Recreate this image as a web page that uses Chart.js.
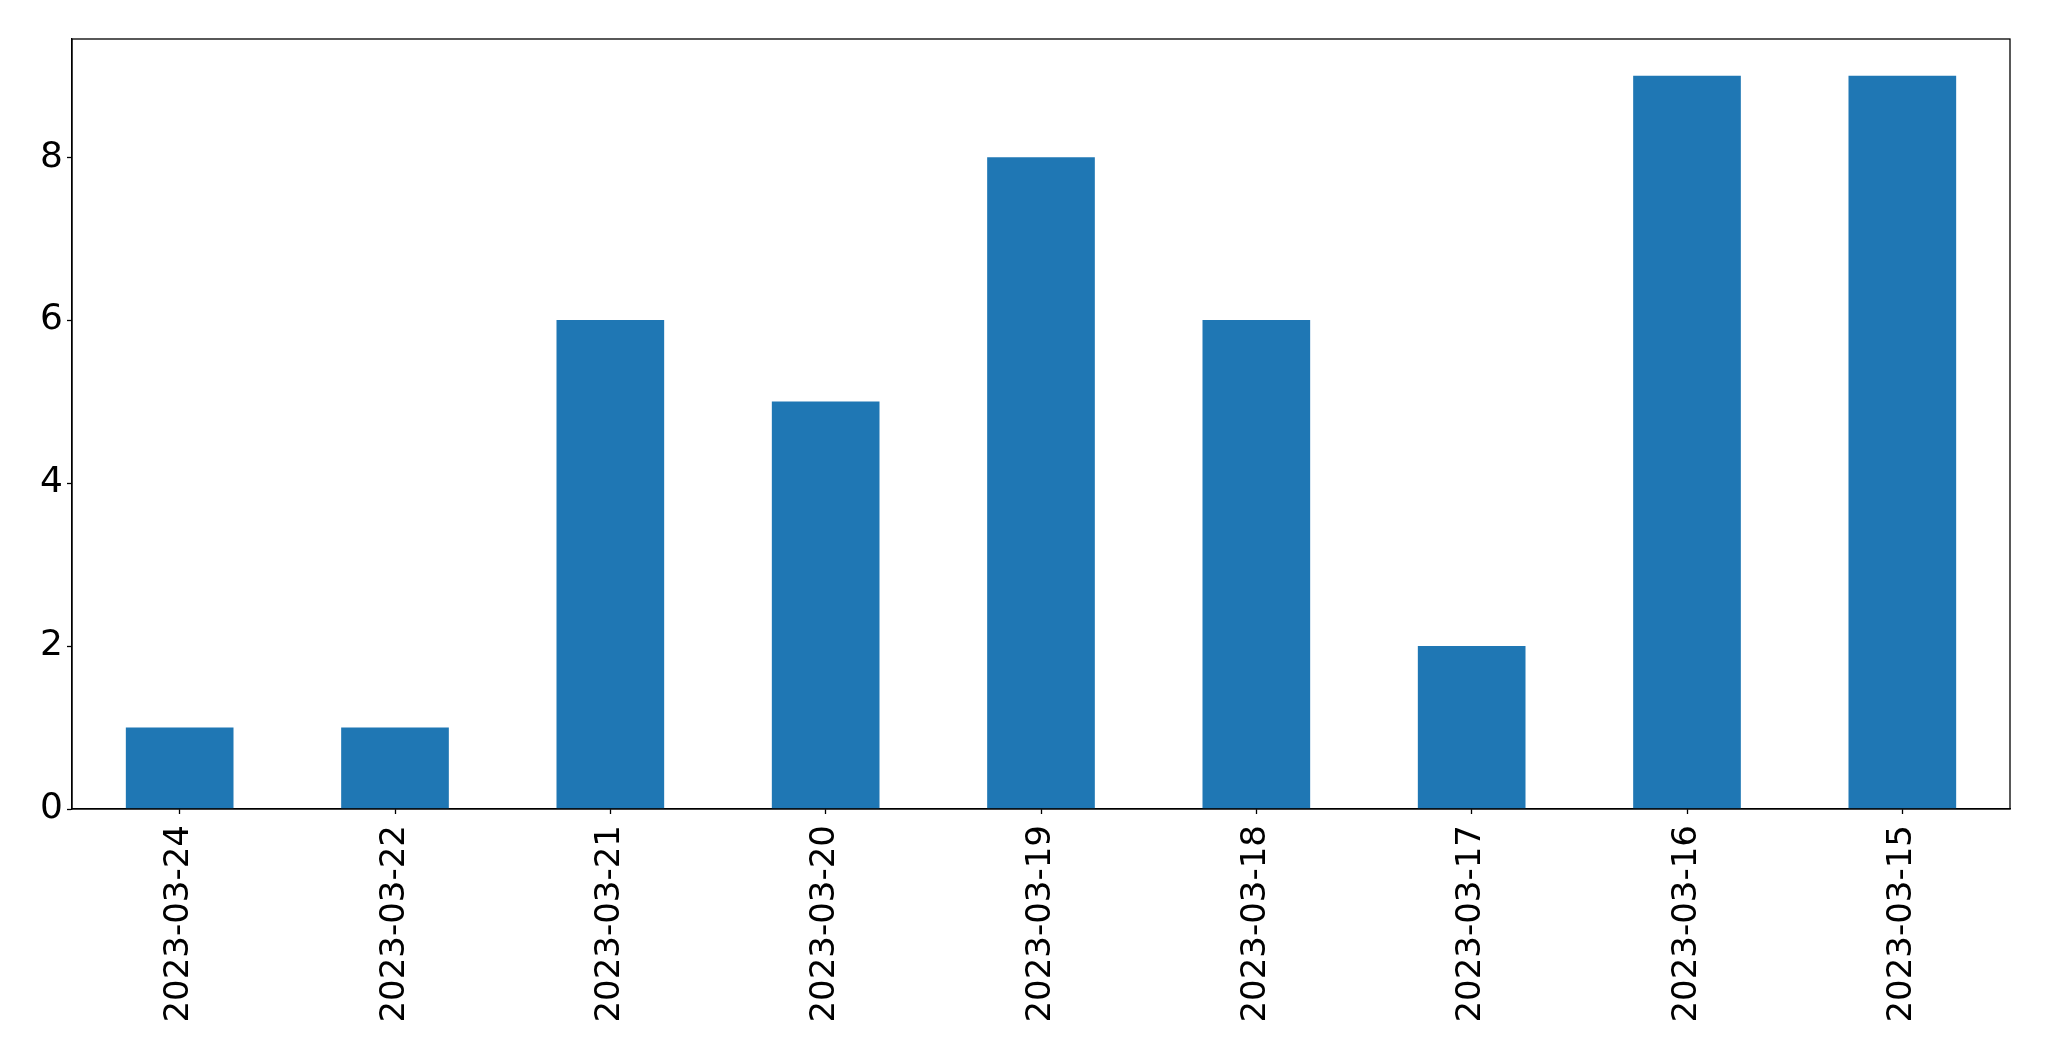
<!DOCTYPE html>
<html>
<head>
<meta charset="utf-8">
<script src="https://cdn.jsdelivr.net/npm/chart.js@4"></script>
<style>
    html, body { margin: 0; padding: 0; background: #ffffff; }
    canvas { display: block; }
</style>
</head>
<body>
<canvas id="dateChart" width="2049" height="1061"></canvas>
<script>
const dates = [
    "2023-03-24",
    "2023-03-22",
    "2023-03-21",
    "2023-03-20",
    "2023-03-19",
    "2023-03-18",
    "2023-03-17",
    "2023-03-16",
    "2023-03-15",
];
const counts = [1, 1, 6, 5, 8, 6, 2, 9, 9];
const yTicks = [0, 2, 4, 6, 8];

// top and right spines like matplotlib
const frameBox = {
    id: "frameBox",
    afterDraw: (chart) => {
        const { ctx, chartArea: { top, bottom, left, right } } = chart;
        ctx.save();
        ctx.strokeStyle = "#000000";
        ctx.lineWidth = 1.3;
        ctx.strokeRect(left, top, right - left, bottom - top);
        ctx.restore();
    },
};

Chart.defaults.font.family = "'DejaVu Sans', sans-serif";
Chart.defaults.color = "#000000";

const ctx = document.getElementById("dateChart").getContext("2d");
let dateChart = new Chart(ctx, {
    type: "bar",
    data: {
        labels: dates,
        datasets: [
            {
                data: counts,
                backgroundColor: "#1f77b4",
                borderWidth: 0,
                barPercentage: 0.5,
                categoryPercentage: 1,
            },
        ],
    },
    options: {
        responsive: false,
        animation: false,
        devicePixelRatio: 1,
        layout: {
            padding: { top: 39, right: 39, left: 0, bottom: 0 },
        },
        scales: {
            x: {
                offset: true,
                grid: {
                    offset: false,
                    drawOnChartArea: false,
                    drawTicks: true,
                    tickLength: 5,
                    tickWidth: 1.3,
                    tickColor: "#000000",
                },
                border: { display: true, color: "#000000", width: 1.3 },
                ticks: {
                    color: "#000000",
                    font: { size: 34 },
                    minRotation: 90,
                    maxRotation: 90,
                    padding: 11,
                    autoSkip: false,
                },
                afterFit: (scale) => {
                    scale.height = 252;
                },
            },
            y: {
                min: 0,
                max: 9.45,
                grid: {
                    drawOnChartArea: false,
                    drawTicks: true,
                    tickLength: 5,
                    tickWidth: 1.3,
                    tickColor: "#000000",
                },
                border: { display: true, color: "#000000", width: 1.3 },
                ticks: {
                    color: "#000000",
                    font: { size: 36 },
                    padding: 4,
                },
                afterBuildTicks: (scale) => {
                    scale.ticks = yTicks.map((v) => ({ value: v }));
                },
                afterFit: (scale) => {
                    scale.width = 72;
                },
            },
        },
        plugins: {
            legend: { display: false },
            tooltip: { enabled: false },
        },
    },
    plugins: [frameBox],
});
</script>
</body>
</html>
